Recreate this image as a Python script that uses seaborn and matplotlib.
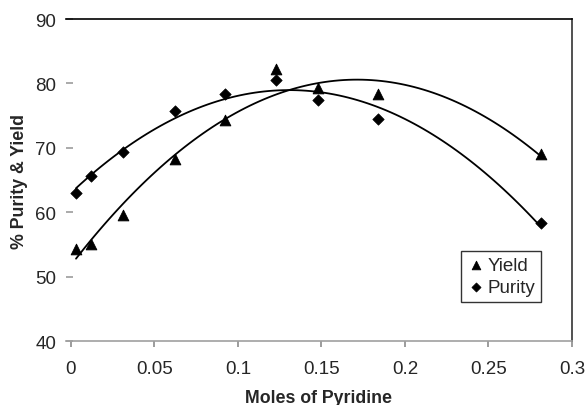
import seaborn as sns
import matplotlib.pyplot as plt
import pandas as pd

# data
moles = [0.003, 0.012, 0.031, 0.062, 0.092, 0.1225, 0.148, 0.184, 0.2815]
yield_pct = [54.3, 55.1, 59.5, 68.3, 74.3, 82.2, 79.3, 78.3, 69.1]
purity_pct = [63.0, 65.7, 69.3, 75.7, 78.4, 80.5, 77.5, 74.4, 58.4]

df = pd.DataFrame({"moles": moles, "Yield": yield_pct, "Purity": purity_pct})

sns.set_theme(style="white")
plt.rcParams["font.family"] = ["Liberation Sans", "DejaVu Sans"]

fig = plt.figure(figsize=(5.87, 4.06), dpi=100)
ax = fig.add_axes([0.1124, 0.1576, 0.862, 0.7931])

# 2nd order polynomial trendlines
for col in ["Yield", "Purity"]:
    sns.regplot(data=df, x="moles", y=col, order=2, ci=None, scatter=False,
                truncate=True, ax=ax, line_kws={"color": "black", "lw": 1.3})

sns.scatterplot(data=df, x="moles", y="Yield", marker="^", color="black",
                s=60, edgecolor="black", ax=ax, label="Yield", zorder=3)
sns.scatterplot(data=df, x="moles", y="Purity", marker="D", color="black",
                s=34, edgecolor="black", ax=ax, label="Purity", zorder=3)

ax.set_xlim(-0.003, 0.3)
ax.set_ylim(40, 90)
ax.set_xticks([0, 0.05, 0.1, 0.15, 0.2, 0.25, 0.3])
ax.set_xticklabels(["0", "0.05", "0.1", "0.15", "0.2", "0.25", "0.3"])
ax.set_yticks([40, 50, 60, 70, 80, 90])

ax.spines["left"].set_visible(False)
ax.spines["bottom"].set_color("#a0a0a0")
ax.spines["top"].set_color("black")
ax.spines["right"].set_color("#333333")
for s in ax.spines.values():
    s.set_linewidth(1.2)

ax.tick_params(axis="x", direction="out", length=4, color="#909090",
               labelsize=13.5, pad=10, bottom=True)
ax.tick_params(axis="y", direction="in", length=5, color="#a0a0a0",
               labelsize=13.5, pad=7, left=True)

ax.set_xlabel("Moles of Pyridine", fontsize=12.8, fontweight="bold", labelpad=8)
ax.set_ylabel("% Purity & Yield", fontsize=12.8, fontweight="bold", labelpad=5)

leg = ax.legend(loc="upper left", bbox_to_anchor=(0.781, 0.28), fontsize=13.5,
                frameon=True, fancybox=False, handletextpad=0.1,
                handlelength=1.0, borderpad=0.3, labelspacing=0.3,
                markerscale=0.8, borderaxespad=0)
leg.get_frame().set_edgecolor("black")
leg.get_frame().set_linewidth(1.0)

fig.savefig("out.png", dpi=100)
